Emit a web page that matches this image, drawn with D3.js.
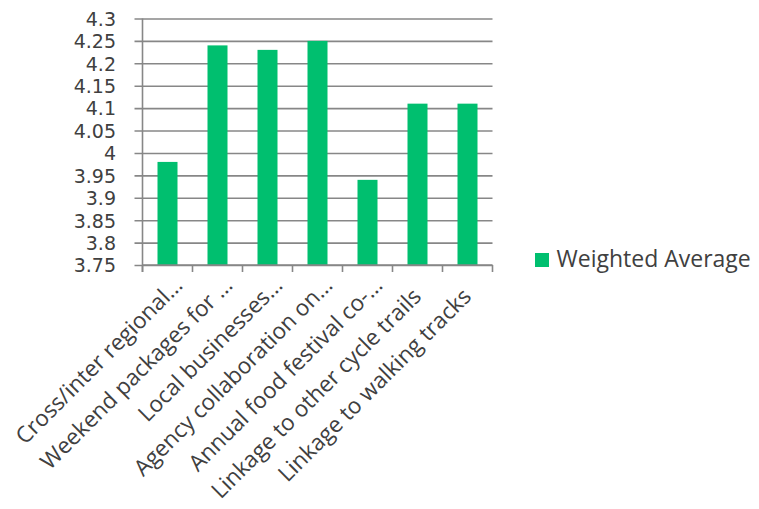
<!DOCTYPE html>
<html>
<head>
<meta charset="utf-8">
<script src="https://cdn.jsdelivr.net/npm/d3@7"></script>
<style>
  html, body { margin: 0; padding: 0; background: #fff; }
  svg { display: block; }
  text { font-family: "Open Sans", "Liberation Sans", sans-serif; fill: #404040; }
</style>
</head>
<body>
<svg id="chart" width="759" height="509"></svg>
<script>
const categories = [
  "Cross/inter regional…",
  "Weekend packages for …",
  "Local businesses…",
  "Agency collaboration on…",
  "Annual food festival co-…",
  "Linkage to other cycle trails",
  "Linkage to walking tracks"
];
const weightedAverage = [3.98, 4.24, 4.23, 4.25, 3.94, 4.11, 4.11];
const yTicks = [3.75, 3.8, 3.85, 3.9, 3.95, 4, 4.05, 4.1, 4.15, 4.2, 4.25, 4.3];
const seriesName = "Weighted Average";

const svg = d3.select("#chart");
const margin = { left: 142.5, right: 266.5, top: 18.5, bottom: 244 };
const W = 759, H = 509;
const plotW = W - margin.left - margin.right;
const plotH = H - margin.top - margin.bottom;
const green = "#00BF6F";
const grid = "#878787";

const x = d3.scaleBand().domain(categories).range([0, plotW]).paddingInner(0.6).paddingOuter(0.3);
const y = d3.scaleLinear().domain([3.75, 4.3]).range([plotH, 0]);

const g = svg.append("g").attr("transform", `translate(${margin.left},${margin.top})`);

// horizontal gridlines with short outward ticks
const yAxis = g.append("g")
  .call(d3.axisLeft(y).tickValues(yTicks).tickSize(-plotW).tickSizeOuter(0).tickPadding(26.5)
        .tickFormat(d => String(+d.toFixed(2))));
yAxis.select(".domain").remove();
yAxis.selectAll(".tick line").attr("stroke", grid).attr("stroke-width", 1.6).attr("x1", -8);
yAxis.selectAll(".tick text")
  .style("font-family", "'DejaVu Sans', sans-serif")
  .style("font-size", "19px").attr("fill", "#404040").attr("dy", "0.36em");

// vertical axis line
g.append("line").attr("x1", 0).attr("x2", 0).attr("y1", 0).attr("y2", plotH + 7)
  .attr("stroke", grid).attr("stroke-width", 1.6);

// bars
g.selectAll("rect.bar").data(weightedAverage).join("rect")
  .attr("class", "bar")
  .attr("x", (d, i) => x(categories[i]))
  .attr("width", x.bandwidth())
  .attr("y", d => y(d))
  .attr("height", d => plotH - y(d))
  .attr("fill", green);

// category axis with ticks between categories
const xa = g.append("g").attr("transform", `translate(0,${plotH})`);
xa.append("line").attr("x1", 0).attr("x2", plotW).attr("stroke", grid).attr("stroke-width", 1.6);
xa.selectAll("line.tk").data(d3.range(categories.length + 1)).join("line")
  .attr("class", "tk")
  .attr("x1", i => i * x.step()).attr("x2", i => i * x.step())
  .attr("y1", 0).attr("y2", 7).attr("stroke", grid).attr("stroke-width", 1.6);

// rotated category labels; truncated labels sit a little further along the diagonal
xa.selectAll("text.cat").data(categories).join("text")
  .attr("class", "cat")
  .attr("text-anchor", "end")
  .style("font-size", "22.5px")
  .attr("transform", d => `translate(${x(d) + x.bandwidth() / 2 + 5},${33}) rotate(-45)`)
  .attr("x", d => d.endsWith("…") ? 16 : 0)
  .text(d => d);

// legend
const lg = svg.append("g").attr("transform", "translate(535,253)");
lg.append("rect").attr("width", 14).attr("height", 14).attr("fill", green);
lg.append("text").attr("x", 21.5).attr("y", 13.7).style("font-size", "23px").text(seriesName);
</script>
</body>
</html>
